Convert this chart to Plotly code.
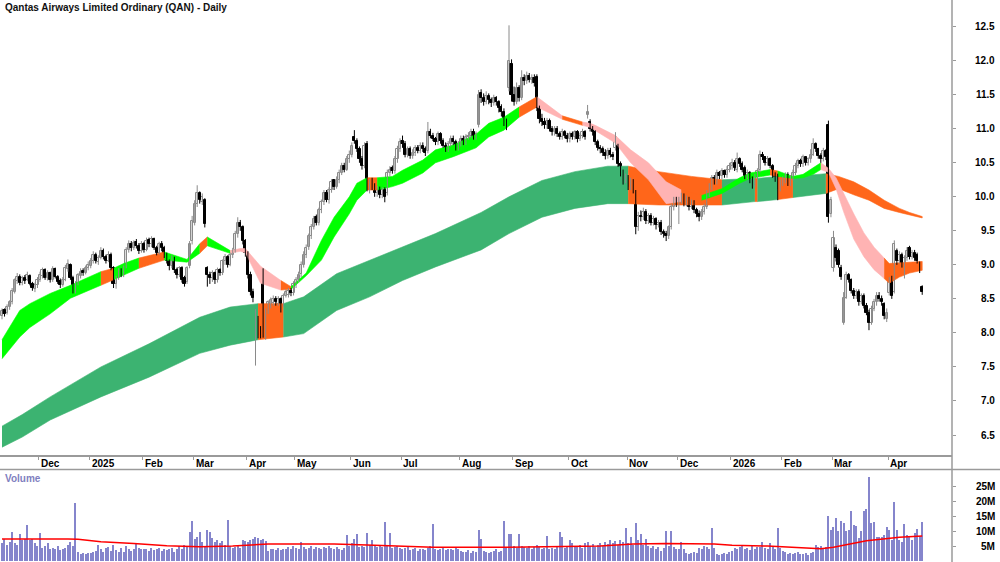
import plotly.graph_objects as go

# ---------------- data ----------------
MONTH_IDX = [15, 35, 56, 76, 97, 116, 138, 158, 181, 202, 224, 247, 267, 288, 308, 328, 350]
MONTH_LBL = ["Dec", "2025", "Feb", "Mar", "Apr", "May", "Jun", "Jul", "Aug", "Sep", "Oct", "Nov",
             "Dec", "2026", "Feb", "Mar", "Apr"]

OPEN = [
    8.25, 8.33, 8.30, 8.38, 8.45, 8.60, 8.76, 8.82, 8.74, 8.81, 8.78, 8.84, 8.72, 8.64, 8.70,
    8.78, 8.84, 8.92, 8.80, 8.88, 8.78, 8.94, 8.82, 8.76, 8.70, 8.78, 8.94, 9.00, 8.80, 8.62, 8.72, 8.84, 8.91, 8.88, 8.95,
    8.98, 9.05, 9.14, 9.04, 9.10, 9.20, 9.12, 9.06, 9.15, 8.95, 8.72, 8.80, 8.91, 8.85, 8.98, 9.22, 9.31, 9.25, 9.33, 9.28, 9.20,
    9.30, 9.22, 9.36, 9.30, 9.38, 9.25, 9.18, 9.31, 9.25, 9.15, 9.05, 8.98, 9.10, 8.92, 8.85, 8.95, 8.80, 8.75, 8.98, 9.35,
    9.62, 9.90, 10.05, 9.92, 9.95, 8.95, 8.85, 8.80, 8.88, 8.78, 8.92, 8.88, 9.05, 9.12, 9.00, 9.15, 9.22, 9.45, 9.62, 9.55, 9.35,
    9.15, 8.85, 8.60, 7.95, 8.20, 8.05, 8.90, 7.93, 8.30, 8.40, 8.44, 8.50, 8.42, 8.50, 8.40, 8.55, 8.56, 8.62, 8.58,
    8.70, 8.78, 8.86, 9.00, 9.15, 9.26, 9.42, 9.55, 9.70, 9.62, 9.80, 9.92, 10.06, 9.95, 10.10, 10.24, 10.15, 10.25, 10.35, 10.46, 10.40, 10.55,
    10.62, 10.88, 10.82, 10.70, 10.55, 10.45, 10.78, 10.12, 10.22, 10.15, 10.05, 10.12, 10.02, 10.10, 10.05, 10.35, 10.42, 10.38, 10.55, 10.70,
    10.82, 10.78, 10.62, 10.70, 10.60, 10.65, 10.72, 10.68, 10.75, 10.70, 10.68, 10.95, 10.90, 10.85, 10.80, 10.92, 10.82, 10.75, 10.70, 10.78, 10.85, 10.80, 10.72,
    10.78, 10.85, 10.80, 10.88, 10.90, 10.95, 10.88, 11.05, 11.52, 11.45, 11.40, 11.48, 11.42, 11.38, 11.45, 11.40, 11.32, 11.25, 11.10, 11.60, 11.95,
    11.50, 11.40, 11.60, 11.45, 11.75, 11.70, 11.78, 11.72, 11.75, 11.76, 11.30, 11.15, 11.10, 11.05, 11.12, 11.00, 10.95, 11.00, 10.92, 10.88, 10.95, 10.90,
    10.85, 10.92, 10.88, 10.95, 10.85, 10.90, 10.95, 11.20, 11.10, 11.00, 10.95, 10.80, 10.72, 10.70, 10.65, 10.60, 10.68, 10.62, 10.72, 10.75, 10.48, 10.35, 10.25,
    10.28, 10.15, 10.22, 10.08, 9.55, 9.72, 9.70, 9.78, 9.65, 9.72, 9.62, 9.68, 9.58, 9.62, 9.48, 9.45, 9.42, 9.55, 9.85, 9.95,
    9.88, 9.95, 10.02, 9.90, 9.98, 9.85, 9.92, 9.80, 9.75, 9.70, 9.78, 9.85, 10.05, 10.15, 10.28, 10.22, 10.35, 10.30, 10.38, 10.32, 10.40,
    10.45, 10.50, 10.40, 10.55, 10.48, 10.42, 10.30, 10.35, 10.25, 10.18, 10.30, 10.40, 10.62, 10.58, 10.50, 10.55, 10.45, 10.32, 10.30, 10.12,
    10.22, 10.25, 10.32, 10.20, 10.28, 10.35, 10.45, 10.52, 10.48, 10.58, 10.50, 10.55, 10.62, 10.78, 10.70, 10.60, 10.55, 10.68, 11.05, 9.75,
    8.95, 9.25, 9.20, 8.95, 8.15, 8.52, 8.85, 8.78, 8.62, 8.55, 8.60, 8.45, 8.55, 8.40, 8.30, 8.15, 8.35, 8.45, 8.55, 8.50, 8.42, 8.20,
    8.58, 8.80, 8.60, 9.20, 9.05, 9.15, 8.90, 9.10, 9.25, 9.12, 9.18, 9.15, 9.02, 8.67,
]

HIGH = [
    8.36, 8.36, 8.42, 8.48, 8.66, 8.80, 8.88, 8.86, 8.84, 8.85, 8.90, 8.86, 8.75, 8.74, 8.82,
    8.90, 8.96, 8.95, 8.92, 8.90, 8.98, 8.96, 8.85, 8.80, 8.82, 9.00, 9.08, 9.02, 8.84, 8.76, 8.88, 8.95, 8.95, 8.99, 9.05,
    9.10, 9.20, 9.18, 9.14, 9.26, 9.24, 9.15, 9.20, 9.18, 8.98, 8.84, 8.95, 8.95, 8.99, 9.26, 9.36, 9.35, 9.36, 9.38, 9.32, 9.35,
    9.34, 9.40, 9.40, 9.42, 9.40, 9.28, 9.34, 9.35, 9.28, 9.18, 9.08, 9.14, 9.12, 8.96, 8.98, 8.98, 8.84, 8.98, 9.35, 9.72,
    9.95, 10.17, 10.08, 10.05, 9.98, 8.98, 8.90, 8.92, 8.90, 8.96, 8.95, 9.08, 9.16, 9.14, 9.18, 9.25, 9.50, 9.70, 9.66, 9.58, 9.38,
    9.20, 8.90, 8.65, 8.35, 8.25, 8.10, 8.95, 8.36, 8.48, 8.52, 8.55, 8.54, 8.54, 8.52, 8.58, 8.64, 8.66, 8.66, 8.76,
    8.82, 8.90, 9.05, 9.20, 9.30, 9.46, 9.60, 9.72, 9.74, 9.84, 9.96, 10.10, 10.10, 10.14, 10.26, 10.26, 10.30, 10.40, 10.50, 10.50, 10.60, 10.68,
    10.80, 10.98, 10.86, 10.74, 10.60, 10.80, 10.82, 10.26, 10.28, 10.20, 10.16, 10.15, 10.14, 10.14, 10.40, 10.45, 10.46, 10.60, 10.75, 10.86,
    10.90, 10.82, 10.74, 10.74, 10.70, 10.76, 10.76, 10.80, 10.80, 10.74, 11.10, 11.00, 10.94, 10.88, 10.96, 10.95, 10.86, 10.80, 10.82, 10.90, 10.90, 10.84, 10.82,
    10.90, 10.90, 10.92, 10.95, 11.00, 11.00, 10.96, 11.57, 11.58, 11.52, 11.55, 11.52, 11.46, 11.50, 11.48, 11.42, 11.36, 11.30, 11.15, 12.52, 12.02,
    11.62, 11.68, 11.64, 11.86, 11.80, 11.84, 11.82, 11.80, 11.80, 11.80, 11.34, 11.22, 11.16, 11.16, 11.15, 11.04, 11.04, 11.04, 10.96, 11.00, 10.98, 10.94,
    10.96, 10.96, 10.98, 10.98, 10.94, 11.00, 10.98, 11.35, 11.14, 11.04, 10.98, 10.84, 10.76, 10.74, 10.70, 10.72, 10.72, 10.66, 10.95, 10.78, 10.52, 10.40, 10.34,
    10.32, 10.28, 10.26, 10.10, 9.78, 9.80, 9.84, 9.82, 9.76, 9.76, 9.72, 9.70, 9.66, 9.66, 9.52, 9.50, 9.58, 9.90, 10.00, 10.00,
    10.00, 10.06, 10.05, 10.02, 10.00, 9.96, 9.95, 9.84, 9.80, 9.82, 9.90, 10.10, 10.20, 10.32, 10.32, 10.40, 10.38, 10.42, 10.40, 10.45, 10.50,
    10.56, 10.54, 10.65, 10.58, 10.52, 10.46, 10.40, 10.38, 10.30, 10.34, 10.42, 10.68, 10.66, 10.60, 10.60, 10.58, 10.48, 10.36, 10.34, 10.26,
    10.30, 10.36, 10.36, 10.32, 10.40, 10.50, 10.56, 10.56, 10.62, 10.60, 10.58, 10.70, 10.86, 10.80, 10.72, 10.64, 10.72, 10.70, 11.12, 10.00,
    9.50, 9.30, 9.24, 9.00, 8.60, 8.90, 8.88, 8.80, 8.66, 8.64, 8.64, 8.58, 8.58, 8.44, 8.34, 8.40, 8.50, 8.60, 8.60, 8.55, 8.45, 8.36,
    8.82, 8.84, 9.36, 9.24, 9.20, 9.18, 9.14, 9.26, 9.28, 9.22, 9.22, 9.18, 9.05, 8.70,
]

LOW = [
    8.20, 8.24, 8.27, 8.34, 8.42, 8.58, 8.72, 8.70, 8.70, 8.72, 8.76, 8.70, 8.62, 8.60, 8.66,
    8.75, 8.80, 8.78, 8.77, 8.74, 8.75, 8.80, 8.72, 8.66, 8.68, 8.76, 8.90, 8.78, 8.58, 8.58, 8.70, 8.80, 8.84, 8.86, 8.92,
    8.95, 9.02, 9.02, 9.00, 9.08, 9.08, 9.02, 9.04, 8.92, 8.66, 8.65, 8.78, 8.82, 8.82, 8.95, 9.18, 9.20, 9.22, 9.24, 9.16, 9.18,
    9.18, 9.20, 9.26, 9.26, 9.22, 9.14, 9.15, 9.20, 9.10, 9.02, 8.92, 8.95, 8.88, 8.80, 8.82, 8.74, 8.68, 8.72, 8.95, 9.30,
    9.58, 9.85, 9.90, 9.88, 9.55, 8.68, 8.72, 8.75, 8.72, 8.74, 8.84, 8.85, 9.00, 8.96, 8.98, 9.10, 9.18, 9.40, 9.50, 9.30, 9.12,
    8.80, 8.55, 8.45, 7.52, 7.92, 7.92, 7.93, 7.90, 8.28, 8.36, 8.40, 8.40, 8.40, 8.30, 8.38, 8.52, 8.52, 8.54, 8.55,
    8.66, 8.74, 8.82, 8.96, 9.10, 9.22, 9.38, 9.52, 9.58, 9.58, 9.76, 9.88, 9.92, 9.90, 10.06, 10.10, 10.12, 10.20, 10.32, 10.36, 10.38, 10.50,
    10.58, 10.78, 10.66, 10.50, 10.40, 10.42, 10.08, 10.05, 10.10, 10.00, 10.00, 9.98, 9.98, 9.92, 10.02, 10.30, 10.34, 10.34, 10.50, 10.66,
    10.72, 10.58, 10.58, 10.56, 10.56, 10.60, 10.64, 10.64, 10.66, 10.60, 10.64, 10.86, 10.82, 10.76, 10.76, 10.78, 10.72, 10.66, 10.66, 10.74, 10.76, 10.68, 10.68,
    10.74, 10.76, 10.76, 10.84, 10.86, 10.84, 10.84, 11.02, 11.38, 11.34, 11.36, 11.36, 11.32, 11.34, 11.34, 11.24, 11.18, 11.04, 10.98, 11.55, 11.40,
    11.34, 11.36, 11.40, 11.42, 11.64, 11.66, 11.68, 11.66, 11.62, 11.26, 11.08, 11.04, 11.00, 11.00, 10.96, 10.90, 10.90, 10.88, 10.84, 10.84, 10.86, 10.80,
    10.80, 10.84, 10.84, 10.80, 10.82, 10.86, 10.84, 11.15, 10.96, 10.90, 10.76, 10.68, 10.64, 10.60, 10.55, 10.56, 10.58, 10.54, 10.68, 10.44, 10.30, 10.18, 10.20,
    10.10, 10.10, 10.05, 9.45, 9.50, 9.64, 9.66, 9.60, 9.60, 9.58, 9.58, 9.52, 9.55, 9.44, 9.40, 9.35, 9.38, 9.52, 9.80, 9.85,
    9.60, 9.90, 9.86, 9.86, 9.80, 9.82, 9.76, 9.70, 9.64, 9.66, 9.74, 9.82, 10.00, 10.10, 10.18, 10.18, 10.26, 10.26, 10.28, 10.28, 10.36,
    10.40, 10.38, 10.36, 10.44, 10.36, 10.26, 10.26, 10.20, 10.12, 10.14, 10.26, 10.36, 10.54, 10.46, 10.46, 10.42, 10.28, 10.22, 9.95, 10.08,
    10.16, 10.20, 10.16, 10.16, 10.24, 10.32, 10.42, 10.44, 10.44, 10.46, 10.46, 10.50, 10.60, 10.66, 10.56, 10.50, 10.52, 10.54, 9.62, 9.70,
    8.90, 9.05, 8.96, 8.78, 8.12, 8.50, 8.74, 8.58, 8.50, 8.50, 8.40, 8.42, 8.36, 8.26, 8.04, 8.12, 8.32, 8.40, 8.46, 8.40, 8.20, 8.16,
    8.55, 8.50, 8.58, 9.00, 9.02, 8.96, 8.80, 9.06, 9.08, 9.08, 9.06, 9.02, 8.88, 8.56,
]

CLOSE = [
    8.32, 8.28, 8.38, 8.45, 8.62, 8.78, 8.82, 8.74, 8.80, 8.76, 8.85, 8.72, 8.66, 8.70, 8.78,
    8.85, 8.92, 8.80, 8.88, 8.78, 8.94, 8.82, 8.75, 8.70, 8.78, 8.95, 9.02, 8.80, 8.62, 8.70, 8.85, 8.90, 8.88, 8.95, 9.00,
    9.05, 9.15, 9.05, 9.10, 9.20, 9.12, 9.05, 9.15, 8.95, 8.72, 8.80, 8.90, 8.85, 8.95, 9.22, 9.30, 9.25, 9.32, 9.28, 9.20, 9.30,
    9.22, 9.35, 9.30, 9.38, 9.25, 9.18, 9.30, 9.25, 9.15, 9.05, 8.98, 9.10, 8.92, 8.85, 8.95, 8.78, 8.72, 8.95, 9.30, 9.65,
    9.90, 10.05, 9.95, 10.00, 9.60, 8.85, 8.80, 8.88, 8.78, 8.92, 8.88, 9.05, 9.12, 9.00, 9.15, 9.20, 9.45, 9.62, 9.55, 9.35, 9.18,
    8.85, 8.60, 8.52, 8.30, 7.97, 7.97, 7.98, 8.33, 8.45, 8.48, 8.50, 8.45, 8.50, 8.38, 8.55, 8.60, 8.62, 8.58, 8.72,
    8.78, 8.85, 9.00, 9.15, 9.25, 9.42, 9.55, 9.68, 9.62, 9.80, 9.92, 10.05, 9.95, 10.10, 10.22, 10.15, 10.25, 10.35, 10.45, 10.40, 10.55, 10.62,
    10.75, 10.82, 10.70, 10.55, 10.45, 10.75, 10.12, 10.20, 10.15, 10.05, 10.12, 10.02, 10.10, 10.00, 10.35, 10.40, 10.38, 10.55, 10.70, 10.80,
    10.78, 10.62, 10.70, 10.60, 10.65, 10.72, 10.68, 10.75, 10.70, 10.65, 10.95, 10.90, 10.85, 10.80, 10.92, 10.82, 10.75, 10.70, 10.78, 10.85, 10.80, 10.72, 10.78,
    10.85, 10.80, 10.88, 10.90, 10.95, 10.88, 10.92, 11.50, 11.45, 11.40, 11.48, 11.42, 11.38, 11.45, 11.40, 11.30, 11.25, 11.10, 11.05, 12.00, 11.50,
    11.40, 11.60, 11.45, 11.75, 11.70, 11.78, 11.72, 11.75, 11.68, 11.30, 11.15, 11.10, 11.05, 11.12, 11.00, 10.95, 11.00, 10.92, 10.88, 10.95, 10.90, 10.85,
    10.92, 10.88, 10.95, 10.85, 10.90, 10.95, 10.88, 11.25, 11.00, 10.95, 10.80, 10.72, 10.70, 10.65, 10.60, 10.68, 10.62, 10.58, 10.88, 10.48, 10.35, 10.25, 10.28,
    10.15, 10.22, 10.10, 9.55, 9.72, 9.70, 9.78, 9.65, 9.72, 9.62, 9.68, 9.58, 9.62, 9.48, 9.45, 9.42, 9.55, 9.85, 9.95, 9.90,
    9.95, 10.02, 9.90, 9.98, 9.85, 9.92, 9.80, 9.75, 9.70, 9.78, 9.85, 10.05, 10.15, 10.28, 10.22, 10.35, 10.30, 10.38, 10.32, 10.40, 10.45,
    10.50, 10.42, 10.55, 10.48, 10.40, 10.30, 10.35, 10.25, 10.18, 10.30, 10.38, 10.62, 10.58, 10.50, 10.55, 10.45, 10.32, 10.28, 10.12, 10.22,
    10.25, 10.32, 10.20, 10.28, 10.35, 10.45, 10.52, 10.48, 10.58, 10.50, 10.55, 10.62, 10.78, 10.70, 10.60, 10.55, 10.68, 10.58, 9.70, 9.95,
    9.40, 9.10, 9.00, 8.82, 8.52, 8.85, 8.78, 8.62, 8.55, 8.60, 8.45, 8.55, 8.40, 8.30, 8.15, 8.35, 8.45, 8.55, 8.50, 8.45, 8.25, 8.30,
    8.75, 8.55, 9.30, 9.05, 9.15, 9.00, 9.10, 9.20, 9.12, 9.18, 9.10, 9.05, 8.92, 8.60,
]

VOLUME_M = [
    6.0, 7.5, 5.5, 6.5, 9.8, 6.0, 5.5, 9.0, 7.0, 7.5, 12.0, 7.0, 7.5, 6.0, 5.0,
    9.5, 4.5, 5.0, 6.0, 4.0, 4.5, 4.0, 5.0, 3.8, 4.2, 4.5, 5.5, 6.5, 5.0, 19.5, 3.0, 2.5, 2.8, 2.3, 2.6,
    2.8, 3.0, 3.5, 5.5, 4.0, 3.0, 4.5, 4.8, 3.5, 5.5, 3.8, 3.0, 4.5, 3.2, 5.0, 4.0, 3.5, 4.2, 5.8, 4.5, 4.2,
    4.0, 4.2, 3.5, 4.5, 3.8, 4.0, 4.5, 3.5, 4.2, 3.8, 4.0, 4.5, 3.0, 4.0, 5.0, 4.2, 5.5, 4.8, 9.8, 13.5,
    7.4, 8.0, 9.8, 6.5, 4.8, 10.4, 9.8, 7.6, 6.5, 7.0, 6.0, 6.8, 5.5, 13.8, 5.0, 4.5, 4.8, 5.2, 4.5, 7.0, 6.8,
    6.5, 7.2, 7.5, 8.2, 7.6, 7.0, 7.4, 6.8, 3.5, 4.0, 4.2, 3.8, 4.5, 3.6, 4.0, 4.2, 4.8, 4.0, 5.0,
    4.5, 4.2, 6.5, 4.8, 4.0, 4.5, 5.0, 4.2, 4.8, 4.5, 4.0, 4.6, 4.3, 5.2, 4.5, 4.0, 4.8, 4.2, 3.8, 4.5, 8.6, 5.0,
    6.0, 7.4, 9.2, 4.8, 5.0, 4.8, 9.4, 5.5, 7.0, 5.0, 4.8, 5.5, 4.6, 13.0, 5.2, 9.4, 4.5, 4.8, 5.0, 4.5,
    4.2, 4.5, 4.8, 3.8, 4.0, 4.5, 3.5, 4.2, 4.0, 3.8, 4.5, 5.0, 12.5, 4.2, 3.8, 4.0, 4.5, 3.6, 4.0, 4.2, 3.8, 4.4, 4.0,
    3.5, 3.0, 3.2, 3.8, 2.8, 3.5, 3.0, 10.6, 7.4, 3.5, 3.0, 2.8, 3.2, 3.5, 4.0, 3.0, 3.5, 13.5, 4.5, 9.0, 9.0,
    5.0, 4.5, 9.0, 5.2, 4.8, 4.5, 5.0, 4.2, 4.6, 5.5, 4.8, 4.0, 4.5, 8.5, 4.2, 4.5, 4.0, 4.8, 9.8, 8.0, 4.5, 5.0,
    7.0, 6.0, 5.0, 4.8, 5.5, 4.5, 6.0, 6.5, 5.0, 5.8, 4.8, 5.5, 6.0, 5.2, 6.5, 5.8, 7.0, 6.2, 6.8, 5.5, 7.0, 6.5, 11.0,
    6.0, 8.0, 5.5, 12.7, 7.0, 9.0, 5.5, 7.4, 5.0, 4.5, 5.2, 4.0, 4.8, 3.5, 4.5, 10.2, 5.0, 10.0, 4.8, 4.0,
    4.2, 6.4, 4.0, 2.8, 2.5, 2.7, 3.0, 2.6, 4.5, 4.0, 5.0, 4.8, 4.2, 11.0, 4.5, 2.5, 2.0, 2.2, 2.8, 2.4, 3.0,
    3.5, 4.5, 4.0, 4.8, 5.0, 4.2, 4.5, 3.8, 5.5, 4.0, 4.6, 4.8, 6.5, 4.5, 4.0, 5.9, 4.8, 4.2, 11.0, 4.5,
    3.5, 3.0, 2.5, 2.8, 2.2, 2.6, 3.0, 2.4, 2.5, 2.8, 2.0, 2.6, 3.2, 5.4, 4.8, 5.0, 4.5, 4.8, 15.0, 10.5,
    11.6, 14.5, 10.2, 13.5, 12.8, 10.2, 10.5, 17.0, 12.2, 11.8, 7.9, 10.2, 17.0, 17.5, 28.3, 12.8, 13.0, 8.2, 8.2, 8.2, 8.7, 11.3,
    10.5, 7.1, 20.0, 10.5, 7.1, 6.5, 12.5, 8.7, 8.2, 7.1, 9.4, 10.8, 8.5, 13.3,
]

# volume moving-average line (read at sample points)
VMA_IDX = [0, 11, 26, 30, 39, 52, 65, 78, 91, 105, 118, 131, 144, 157, 170, 197, 223, 236, 249, 262,
           281, 288, 302, 315, 323, 328, 341, 354, 363]
VMA_VAL = [7.4, 7.5, 7.4, 7.3, 6.5, 5.9, 5.1, 4.8, 5.05, 5.7, 5.7, 5.7, 5.4, 5.05, 4.6, 4.6, 4.8, 5.05, 5.7, 5.9,
           5.7, 5.3, 5.05, 4.4, 4.15, 4.6, 6.85, 8.0, 8.4]

# short-term ribbon (sampled), colour of the segment that follows each sample
S_IDX = [0, 7, 11, 19, 27, 39, 44, 48, 54, 64, 73, 78, 81, 90, 94, 96, 102, 110, 114, 120, 126, 131, 137, 140,
         144, 148, 154, 158, 166, 171, 178, 187, 192, 198, 204, 211, 221, 229, 232, 234, 242, 248, 255, 262,
         268, 276, 284, 291, 295, 303, 306, 312, 316, 320, 323, 326, 329, 332, 336, 340, 344, 348, 350, 354,
         358, 363]
S_TOP = [7.90, 8.33, 8.43, 8.58, 8.70, 8.90, 8.95, 9.02, 9.10, 9.19, 9.08, 9.31, 9.41, 9.21, 9.24, 9.24, 8.98,
         8.77, 8.68, 8.88, 9.36, 9.70, 10.00, 10.20, 10.28, 10.28, 10.30, 10.39, 10.54, 10.69, 10.76, 10.92,
         11.08, 11.17, 11.32, 11.47, 11.19, 11.10, 11.08, 11.05, 10.90, 10.69, 10.50, 10.22, 10.10, 10.02, 10.12,
         10.28, 10.35, 10.40, 10.38, 10.30, 10.33, 10.42, 10.50, 10.42, 10.28, 10.05, 9.75, 9.47, 9.26, 9.10,
         9.02, 9.03, 9.04, 9.05]
S_BOT = [7.62, 7.94, 8.08, 8.28, 8.51, 8.70, 8.78, 8.85, 8.95, 9.07, 9.04, 9.17, 9.28, 9.17, 9.20, 9.18, 8.73,
         8.63, 8.64, 8.84, 9.07, 9.41, 9.75, 9.95, 10.10, 10.10, 10.15, 10.20, 10.35, 10.50, 10.59, 10.72,
         10.88, 10.98, 11.17, 11.32, 11.14, 11.05, 11.02, 10.98, 10.79, 10.50, 10.25, 9.90, 9.93, 9.95, 10.05,
         10.20, 10.27, 10.32, 10.30, 10.27, 10.28, 10.33, 10.40, 10.36, 10.12, 9.78, 9.38, 9.12, 8.93, 8.80,
         8.73, 8.82, 8.88, 8.92]
S_COL = ["G", "G", "G", "G", "G", "O", "G", "G", "O", "G", "G", "O", "G", "P", "P", "P", "P", "O", "G", "G",
         "G", "G", "G", "G", "O", "G", "G", "G", "G", "G", "G", "G", "G", "G", "O", "P", "O", "P", "P", "P",
         "P", "P", "P", "P", "O", "G", "G", "G", "G", "O", "G", "G", "G", "G", "P", "P", "P", "P", "P", "P",
         "P", "O", "O", "O", "O", "-"]

# long-term ribbon (sampled)
L_IDX = [0, 8, 19, 39, 58, 78, 90, 101, 111, 119, 132, 145, 158, 171, 189, 200, 213, 226, 239, 247, 259,
         272, 284, 297, 298, 306, 312, 325, 330, 336, 342, 348, 354, 358, 363]
L_TOP = [6.63, 6.80, 7.06, 7.50, 7.84, 8.23, 8.38, 8.43, 8.43, 8.53, 8.87, 9.07, 9.26, 9.46, 9.77, 10.00,
         10.24, 10.37, 10.45, 10.45, 10.37, 10.30, 10.25, 10.27, 10.27, 10.30, 10.30, 10.34, 10.30, 10.22,
         10.10, 9.95, 9.83, 9.77, 9.71]
L_BOT = [6.32, 6.47, 6.72, 7.06, 7.35, 7.70, 7.82, 7.90, 7.94, 7.99, 8.33, 8.53, 8.77, 8.97, 9.22, 9.46,
         9.70, 9.83, 9.90, 9.90, 9.88, 9.88, 9.88, 9.93, 9.93, 9.96, 9.99, 10.05, 10.12, 10.03, 9.95, 9.83,
         9.77, 9.73, 9.69]
L_COL = ["D", "D", "D", "D", "D", "D", "D", "O", "D", "D", "D", "D", "D", "D", "D", "D", "D", "D", "D",
         "O", "O", "O", "D", "O", "D", "O", "D", "O", "O", "O", "O", "O", "O", "O", "-"]

PRICE_TICKS = [6.5, 7.0, 7.5, 8.0, 8.5, 9.0, 9.5, 10.0, 10.5, 11.0, 11.5, 12.0, 12.5]
VOL_TICKS = [5, 10, 15, 20, 25]

# ---------------- styling ----------------
RIBBON_COLORS = {"G": "#00FF00", "P": "#FFB3B3", "O": "#FF661A", "D": "#3CB371"}
UP_LINE = "#8A8A8A"
FONT = "Liberation Sans, Arial, sans-serif"
AXIS_GREY = "#9A9A9A"
W, H = 1000, 562
PLOT_RIGHT = 952 / W
PRICE_BOTTOM_PX = 455
VOL_TOP_PX = 470

n = min(len(OPEN), len(HIGH), len(LOW), len(CLOSE), len(VOLUME_M))
idx = list(range(n))


def ribbon_traces(ix, top, bot, col):
    out = []
    k = 0
    last = len(ix) - 1
    while k < last:
        c = col[k]
        m = k
        while m < last and col[m] == c:
            m += 1
        xs = ix[k:m + 1] + ix[k:m + 1][::-1]
        ys = top[k:m + 1] + bot[k:m + 1][::-1]
        out.append(go.Scatter(x=xs, y=ys, fill="toself", mode="lines",
                              fillcolor=RIBBON_COLORS[c],
                              line=dict(width=0.6, color=RIBBON_COLORS[c]),
                              hoverinfo="skip", showlegend=False, xaxis="x", yaxis="y"))
        k = m
    return out


fig = go.Figure()
for t in ribbon_traces(L_IDX, L_TOP, L_BOT, L_COL):
    fig.add_trace(t)
for t in ribbon_traces(S_IDX, S_TOP, S_BOT, S_COL):
    fig.add_trace(t)

# candles: wicks as line segments, bodies as floating bars
up = [i for i in idx if CLOSE[i] >= OPEN[i]]
dn = [i for i in idx if CLOSE[i] < OPEN[i]]


def wick_xy(sel):
    xs, ys = [], []
    for i in sel:
        xs += [i, i, None]
        ys += [LOW[i], HIGH[i], None]
    return xs, ys


for sel, colr in ((up, UP_LINE), (dn, "#000000")):
    wx, wy = wick_xy(sel)
    fig.add_trace(go.Scatter(x=wx, y=wy, mode="lines", line=dict(color=colr, width=1),
                             showlegend=False, hoverinfo="skip", xaxis="x", yaxis="y"))

fig.add_trace(go.Bar(x=up, base=[OPEN[i] for i in up],
                     y=[max(CLOSE[i] - OPEN[i], 0.012) for i in up], width=0.85,
                     marker=dict(color="#FFFFFF", line=dict(color=UP_LINE, width=1)),
                     showlegend=False, hoverinfo="skip", xaxis="x", yaxis="y"))
fig.add_trace(go.Bar(x=dn, base=[CLOSE[i] for i in dn],
                     y=[max(OPEN[i] - CLOSE[i], 0.012) for i in dn], width=0.85,
                     marker=dict(color="#000000", line=dict(color="#000000", width=1)),
                     showlegend=False, hoverinfo="skip", xaxis="x", yaxis="y"))

fig.add_trace(go.Bar(x=idx, y=VOLUME_M[:n], width=0.45, marker=dict(color="#8585CC", line=dict(width=0)),
                     showlegend=False, xaxis="x2", yaxis="y2", hoverinfo="skip"))
fig.add_trace(go.Scatter(x=VMA_IDX, y=VMA_VAL, mode="lines", line=dict(color="#FF0000", width=1.5),
                         showlegend=False, xaxis="x2", yaxis="y2", hoverinfo="skip"))

xr = [-2 / 2.535, (952 - 2) / 2.535]
px_per_unit = (435.0 - 26.7) / 6.0
y_top = 12.5 + 26.7 / px_per_unit
y_bot = 12.5 - (PRICE_BOTTOM_PX - 26.7) / px_per_unit
vol_scale = 2.97
v_lo = -(H - 561) / vol_scale
v_hi = (561 - VOL_TOP_PX) / vol_scale

fig.update_layout(
    width=W, height=H, autosize=False,
    margin=dict(l=0, r=0, t=0, b=0, pad=0),
    paper_bgcolor="white", plot_bgcolor="white",
    font=dict(family=FONT, size=10, color="black"),
    showlegend=False, barmode="overlay",
    xaxis=dict(domain=[0, PLOT_RIGHT], range=xr, anchor="y", showgrid=False, zeroline=False,
               showline=True, linecolor=AXIS_GREY, linewidth=1.5,
               tickmode="array", tickvals=[m - 0.45 for m in MONTH_IDX], ticks="outside", ticklen=3,
               tickcolor=AXIS_GREY, showticklabels=False, rangeslider=dict(visible=False), fixedrange=True),
    yaxis=dict(domain=[(H - PRICE_BOTTOM_PX) / H, 1], range=[y_bot, y_top], anchor="x", side="right",
               showgrid=False, zeroline=False, showline=False, tickmode="array", tickvals=PRICE_TICKS,
               ticks="outside", ticklen=3, tickcolor=AXIS_GREY, showticklabels=False, fixedrange=True),
    xaxis2=dict(domain=[0, PLOT_RIGHT], range=xr, anchor="y2", showgrid=False, zeroline=False,
                showline=False, ticks="", showticklabels=False, fixedrange=True),
    yaxis2=dict(domain=[0, (H - VOL_TOP_PX) / H], range=[v_lo, v_hi], anchor="x2", side="right",
                showgrid=False, zeroline=False, showline=False, tickmode="array", tickvals=VOL_TICKS,
                ticks="outside", ticklen=3, tickcolor=AXIS_GREY, showticklabels=False, fixedrange=True),
    bargap=0,
)

shapes = [
    dict(type="line", xref="paper", yref="paper", x0=PLOT_RIGHT, x1=PLOT_RIGHT, y0=0, y1=1,
         line=dict(color=AXIS_GREY, width=1.5)),
    dict(type="line", xref="paper", yref="paper", x0=0, x1=1, y0=(H - 469.5) / H, y1=(H - 469.5) / H,
         line=dict(color=AXIS_GREY, width=1.5)),
]
fig.update_layout(shapes=shapes)

ann = []
ann.append(dict(text="<b>Qantas Airways Limited Ordinary (QAN) - Daily</b>", xref="paper", yref="paper",
                x=3 / W, y=1 - 8 / H, xanchor="left", yanchor="middle", showarrow=False,
                font=dict(family=FONT, size=10, color="#111111")))
ann.append(dict(text="<b>Volume</b>", xref="paper", yref="paper", x=3 / W, y=(H - 478) / H,
                xanchor="left", yanchor="middle", showarrow=False,
                font=dict(family=FONT, size=10, color="#7F7FC0")))
for m, lbl in zip(MONTH_IDX, MONTH_LBL):
    ann.append(dict(text="<b>%s</b>" % lbl, xref="x", yref="paper", x=m - 0.45, y=(H - 463) / H,
                    xanchor="left", yanchor="middle", showarrow=False,
                    font=dict(family=FONT, size=10, color="black")))
for v in PRICE_TICKS:
    ann.append(dict(text="<b>%.1f</b>" % v, xref="paper", yref="y", x=997 / W, y=v,
                    xanchor="right", yanchor="middle", showarrow=False,
                    font=dict(family=FONT, size=10, color="black")))
for v in VOL_TICKS:
    ann.append(dict(text="<b>%dM</b>" % v, xref="paper", yref="y2", x=997 / W, y=v,
                    xanchor="right", yanchor="middle", showarrow=False,
                    font=dict(family=FONT, size=10, color="black")))
fig.update_layout(annotations=ann)

fig.write_html("out.html")
